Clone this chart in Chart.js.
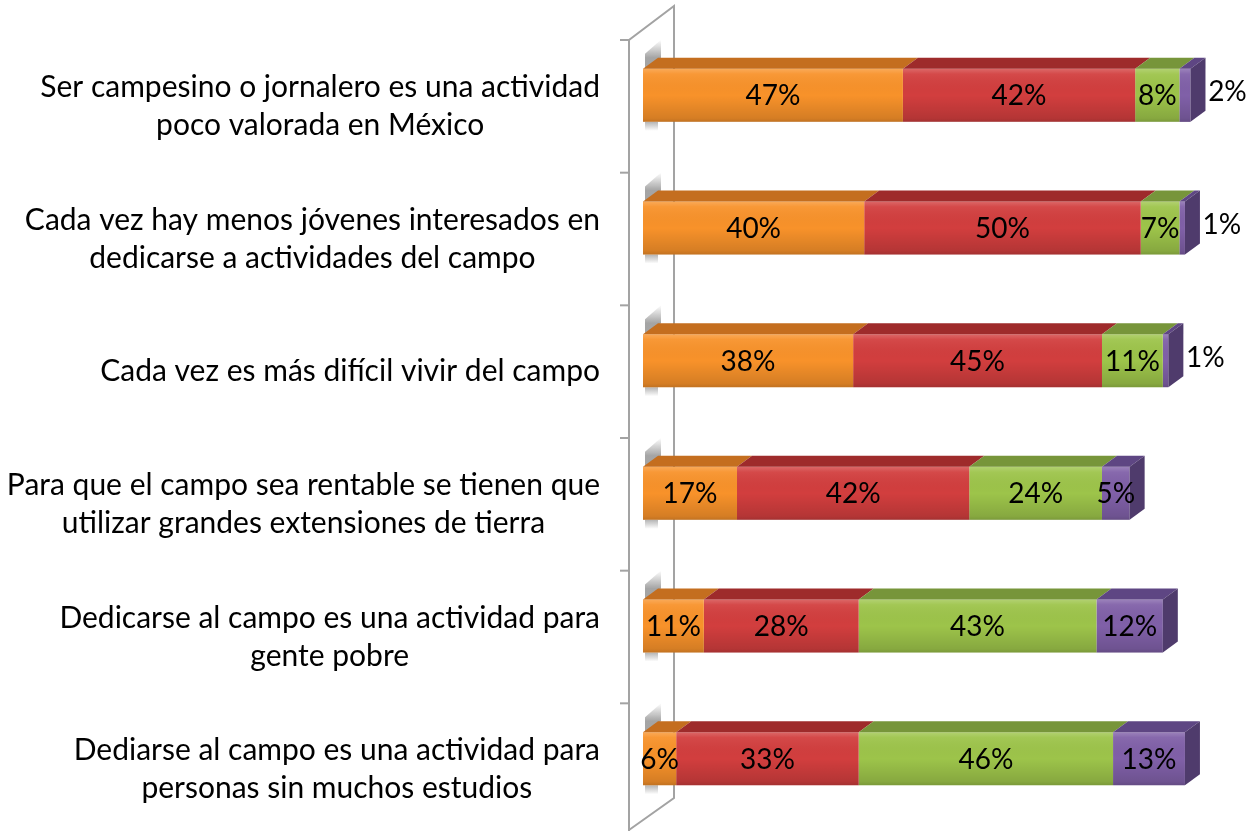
<!DOCTYPE html>
<html>
<head>
<meta charset="utf-8">
<script src="https://cdn.jsdelivr.net/npm/chart.js@4.4.1/dist/chart.umd.min.js"></script>
<style>
  html, body { margin: 0; padding: 0; background: #fff; }
  #wrap { width: 1260px; height: 831px; }
</style>
</head>
<body>
<div id="wrap"><canvas id="chart"></canvas></div>
<script>
const categories = [
    ['Ser campesino o jornalero es una actividad', 'poco valorada en México'],
    ['Cada vez hay menos jóvenes interesados en', 'dedicarse a actividades del campo'],
    ['Cada vez es más difícil vivir del campo'],
    ['Para que el campo sea rentable se tienen que', 'utilizar grandes extensiones de tierra'],
    ['Dedicarse al campo es una actividad para', 'gente pobre'],
    ['Dediarse al campo es una actividad para', 'personas sin muchos estudios']
];
const orangeValues = [47, 40, 38, 17, 11, 6];
const redValues = [42, 50, 45, 42, 28, 33];
const greenValues = [8, 7, 11, 24, 43, 46];
const purpleValues = [2, 1, 1, 5, 12, 13];

const FONT = 'Lato, "Open Sans", sans-serif';
const DX = 15, DY = 11;          // depth of the bars
const WALL_DX = 45, WALL_DY = 34; // depth of the side wall

const faces = [
    { front: '#F8922A', top: '#C46E1F', side: '#B0621B' },
    { front: '#D23E3E', top: '#9E2B2B', side: '#8A2626' },
    { front: '#9DC44A', top: '#77953A', side: '#6A8533' },
    { front: '#8060A8', top: '#5E4683', side: '#4F3B6C' }
];

function rowBand(chart, i) {
    const y = chart.scales.y;
    const c = y.getPixelForValue(i);
    const half = (chart.chartArea.bottom - chart.chartArea.top) / categories.length / 2;
    return { c, top: c - half, bottom: c + half };
}

const wallPlugin = {
    id: 'wall',
    beforeDatasetsDraw(chart) {
        const { ctx, chartArea } = chart;
        const fx = chartArea.left - 14;
        const fTop = chartArea.top + DY, fBottom = chartArea.bottom + DY;
        ctx.save();
        ctx.strokeStyle = '#a3a3a3';
        ctx.lineWidth = 2;
        ctx.beginPath();
        ctx.moveTo(fx, fBottom);
        ctx.lineTo(fx, fTop);
        ctx.lineTo(fx + WALL_DX, fTop - WALL_DY);
        ctx.lineTo(fx + WALL_DX, fBottom - 38);
        ctx.lineTo(fx, fBottom - 6);
        ctx.stroke();
        // tick marks on the front edge
        for (let i = 0; i <= categories.length; i++) {
            const ty = i < categories.length ? rowBand(chart, i).top + DY : chartArea.bottom + DY;
            ctx.beginPath();
            ctx.moveTo(fx - 9, ty);
            ctx.lineTo(fx, ty);
            ctx.stroke();
        }
        // soft shadow of each bar on the wall
        const meta = chart.getDatasetMeta(0);
        meta.data.forEach(bar => {
            const { y, base, height } = bar.getProps(['y', 'base', 'height'], true);
            const top = y - height / 2 - DY, bottom = y + height / 2;
            let g = ctx.createLinearGradient(0, top, 0, top - 18);
            g.addColorStop(0, 'rgba(90,90,90,0.55)');
            g.addColorStop(1, 'rgba(90,90,90,0)');
            ctx.fillStyle = g;
            ctx.beginPath();
            ctx.moveTo(base + 2, top + DY);
            ctx.lineTo(base + DX + 3, top);
            ctx.lineTo(base + DX + 3, top - 18);
            ctx.lineTo(base + 2, top - 4);
            ctx.closePath();
            ctx.fill();
            g = ctx.createLinearGradient(0, bottom, 0, bottom + 9);
            g.addColorStop(0, 'rgba(90,90,90,0.45)');
            g.addColorStop(1, 'rgba(90,90,90,0)');
            ctx.fillStyle = g;
            ctx.fillRect(base + 2, bottom, DX - 2, 9);
        });
        ctx.restore();
    }
};

const shadingPlugin = {
    id: 'shading',
    afterDatasetsDraw(chart) {
        const ctx = chart.ctx;
        const n = chart.data.datasets.length;
        ctx.save();
        chart.data.datasets.forEach((ds, di) => {
            chart.getDatasetMeta(di).data.forEach(bar => {
                const { x, y, base, height } = bar.getProps(['x', 'y', 'base', 'height'], true);
                const top = y - height / 2, bottom = y + height / 2;
                const g = ctx.createLinearGradient(0, top, 0, bottom);
                g.addColorStop(0, 'rgba(255,255,255,0.22)');
                g.addColorStop(0.1, 'rgba(255,255,255,0.06)');
                g.addColorStop(0.5, 'rgba(0,0,0,0)');
                g.addColorStop(0.93, 'rgba(0,0,0,0.14)');
                g.addColorStop(1, 'rgba(0,0,0,0.22)');
                ctx.fillStyle = g;
                ctx.fillRect(base, top, x - base, height);

                ctx.fillStyle = faces[di].top;
                ctx.beginPath();
                ctx.moveTo(base, top);
                ctx.lineTo(x, top);
                ctx.lineTo(x + DX, top - DY);
                ctx.lineTo(base + DX, top - DY);
                ctx.closePath();
                ctx.fill();

                if (di === n - 1) {
                    ctx.fillStyle = faces[di].side;
                    ctx.beginPath();
                    ctx.moveTo(x, top);
                    ctx.lineTo(x + DX, top - DY);
                    ctx.lineTo(x + DX, bottom - DY);
                    ctx.lineTo(x, bottom);
                    ctx.closePath();
                    ctx.fill();
                }
            });
        });
        ctx.restore();
    }
};

const labelPlugin = {
    id: 'labels',
    afterDraw(chart) {
        const ctx = chart.ctx;
        ctx.save();
        // category labels, right aligned block, centred lines
        ctx.font = '30px ' + FONT;
        ctx.fillStyle = '#000';
        ctx.textAlign = 'center';
        ctx.textBaseline = 'middle';
        const rightEdge = chart.chartArea.left - 43;
        categories.forEach((lines, i) => {
            const cy = rowBand(chart, i).c + DY;
            const widest = Math.max(...lines.map(l => ctx.measureText(l).width));
            const cx = rightEdge - widest / 2;
            const lh = 38;
            lines.forEach((l, k) => {
                ctx.fillText(l, cx, cy + (k - (lines.length - 1) / 2) * lh);
            });
        });
        // value labels
        ctx.font = '28px ' + FONT;
        chart.data.datasets.forEach((ds, di) => {
            chart.getDatasetMeta(di).data.forEach((bar, i) => {
                const v = ds.data[i];
                const { x, y, base } = bar.getProps(['x', 'y', 'base'], true);
                if (v < 3) {
                    ctx.fillText(v + '%', x + 37, y - 3);
                } else {
                    ctx.fillText(v + '%', (x + base) / 2, y + 1);
                }
            });
        });
        ctx.restore();
    }
};

function makeSet(label, data, di) {
    return {
        label,
        data,
        backgroundColor: faces[di].front,
        borderWidth: 0,
        barPercentage: 0.4,
        categoryPercentage: 1
    };
}

new Chart(document.getElementById('chart'), {
    type: 'bar',
    data: {
        labels: categories,
        datasets: [
            makeSet('Muy de acuerdo', orangeValues, 0),
            makeSet('De acuerdo', redValues, 1),
            makeSet('En desacuerdo', greenValues, 2),
            makeSet('Muy en desacuerdo', purpleValues, 3)
        ]
    },
    options: {
        indexAxis: 'y',
        responsive: true,
        maintainAspectRatio: false,
        animation: false,
        layout: { padding: { left: 643, right: 64, top: 29, bottom: 6 } },
        scales: {
            x: { stacked: true, min: 0, max: 100, display: false },
            y: { stacked: true, display: false }
        },
        plugins: {
            legend: { display: false },
            tooltip: { enabled: false }
        }
    },
    plugins: [wallPlugin, shadingPlugin, labelPlugin]
});
</script>
</body>
</html>
